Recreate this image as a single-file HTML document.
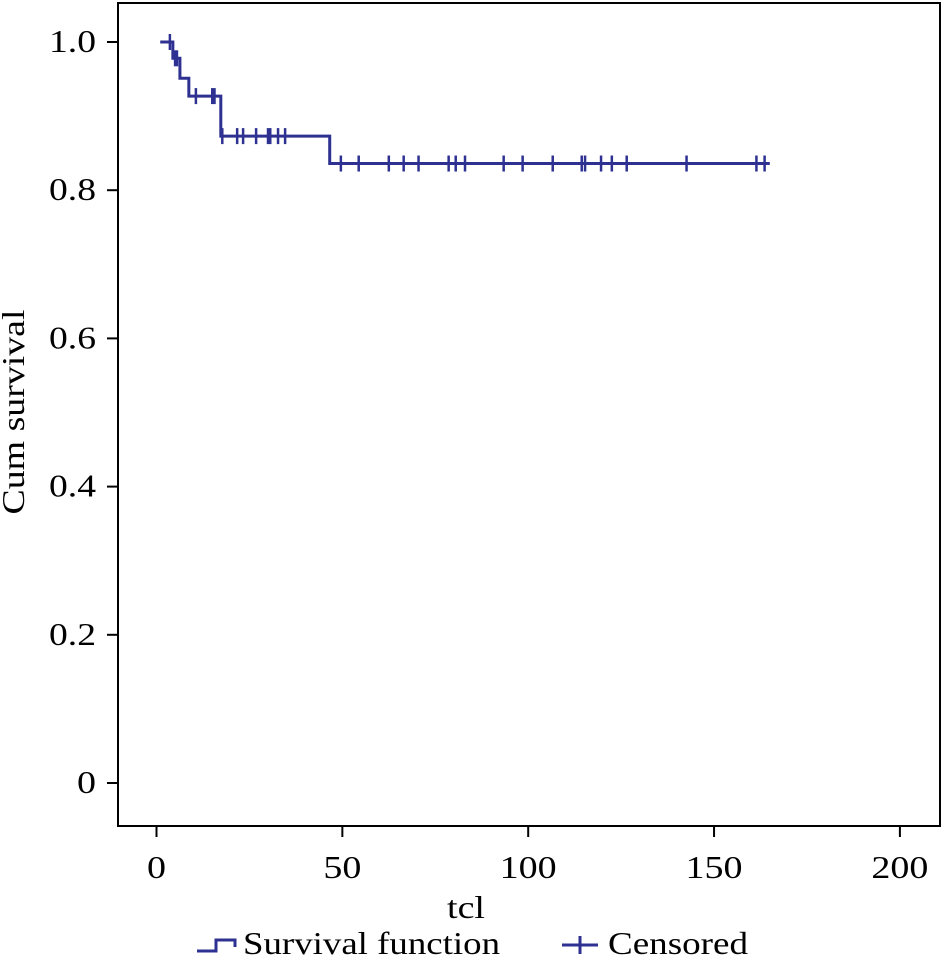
<!DOCTYPE html>
<html><head><meta charset="utf-8"><style>
html,body{margin:0;padding:0;background:#fff;}
svg text{font-family:"Liberation Serif",serif;fill:#000;}
</style></head><body>
<svg id="chart" width="943" height="958" viewBox="0 0 943 958" xmlns="http://www.w3.org/2000/svg">
<rect x="118" y="3" width="822" height="823" fill="none" stroke="#000" stroke-width="2"/>
<g id="axes"></g>
<g id="series"></g>
<text x="466" y="918" font-size="32" text-anchor="middle" textLength="38" lengthAdjust="spacingAndGlyphs">tcl</text>
<text transform="translate(24,412) rotate(-90)" font-size="32" text-anchor="middle" textLength="205" lengthAdjust="spacingAndGlyphs">Cum survival</text>
<g>
<g>
<path d="M197,951 H216 V940 H235 V947" fill="none" stroke="#2e3192" stroke-width="3"/>
<text x="243" y="954" font-size="32" textLength="257" lengthAdjust="spacingAndGlyphs">Survival function</text>
</g>
<g>
<path d="M562,945 H598 M580,936 V954" fill="none" stroke="#2e3192" stroke-width="3"/>
<text x="608" y="954" font-size="32" textLength="140" lengthAdjust="spacingAndGlyphs">Censored</text>
</g>
</g>
</svg>
<script>
const xTicks=[0,50,100,150,200];
const yTicks=[0,0.2,0.4,0.6,0.8,1.0];
const yTickLabels=["0","0.2","0.4","0.6","0.8","1.0"];
const stepTimes=[1,4.4,6.3,8.7,17.3,46.6];
const stepSurvival=[1,0.978,0.951,0.927,0.873,0.836];
const endTime=165;
const censorTimes=[3.6,5.0,5.5,10.6,15,15.6,17.7,21.7,23.3,26.8,30,30.6,32.7,34.6,49.6,54.4,62.5,66.5,70.5,78.6,80.5,83,93.4,98.5,106.6,114.4,115.3,119.6,122.5,126.5,142.6,161.4,163.6];
const NS='http://www.w3.org/2000/svg';
function xs(v){return 156.5+v*3.717;}
function ys(v){return 783-v*741;}
function labelLen(s){let w=0;for(const c of s){w+=(c==='.')?9:19;}return w;}
function survAt(t){let s=stepSurvival[0];for(let i=0;i<stepTimes.length;i++){if(stepTimes[i]<=t)s=stepSurvival[i];}return s;}
const axes=document.getElementById('axes');
xTicks.forEach(t=>{
 const l=document.createElementNS(NS,'line');
 
 
 l.setAttribute('x1',xs(t));l.setAttribute('x2',xs(t));l.setAttribute('y1',826);l.setAttribute('y2',837);
 l.setAttribute('stroke','#000');l.setAttribute('stroke-width','2');axes.appendChild(l);
 const tx=document.createElementNS(NS,'text');
 
 
 const s=String(t);
 tx.setAttribute('x',xs(t));tx.setAttribute('y',878);tx.setAttribute('font-size','32');tx.setAttribute('text-anchor','middle');
 tx.setAttribute('textLength',labelLen(s));tx.setAttribute('lengthAdjust','spacingAndGlyphs');
 tx.textContent=s;axes.appendChild(tx);
});
yTicks.forEach((t,i)=>{
 const l=document.createElementNS(NS,'line');
 
 
 l.setAttribute('x1',107);l.setAttribute('x2',118);l.setAttribute('y1',ys(t));l.setAttribute('y2',ys(t));
 l.setAttribute('stroke','#000');l.setAttribute('stroke-width','2');axes.appendChild(l);
 const tx=document.createElementNS(NS,'text');
 
 
 const s=yTickLabels[i];
 tx.setAttribute('x',96);tx.setAttribute('y',ys(t)+10);tx.setAttribute('font-size','32');tx.setAttribute('text-anchor','end');
 tx.setAttribute('textLength',labelLen(s));tx.setAttribute('lengthAdjust','spacingAndGlyphs');
 tx.textContent=s;axes.appendChild(tx);
});
const series=document.getElementById('series');
let d='M'+xs(stepTimes[0])+','+ys(stepSurvival[0]);
for(let i=1;i<stepTimes.length;i++){d+=' H'+xs(stepTimes[i])+' V'+ys(stepSurvival[i]);}
d+=' H'+xs(endTime);
const p=document.createElementNS(NS,'path');


p.setAttribute('d',d);p.setAttribute('fill','none');p.setAttribute('stroke','#2e3192');p.setAttribute('stroke-width','3');
series.appendChild(p);
censorTimes.forEach(t=>{
 const y=ys(survAt(t));
 const m=document.createElementNS(NS,'line');
 
 
 m.setAttribute('x1',xs(t));m.setAttribute('x2',xs(t));m.setAttribute('y1',y-8);m.setAttribute('y2',y+8);
 m.setAttribute('stroke','#2e3192');m.setAttribute('stroke-width','2.5');series.appendChild(m);
});
</script>
</body></html>
